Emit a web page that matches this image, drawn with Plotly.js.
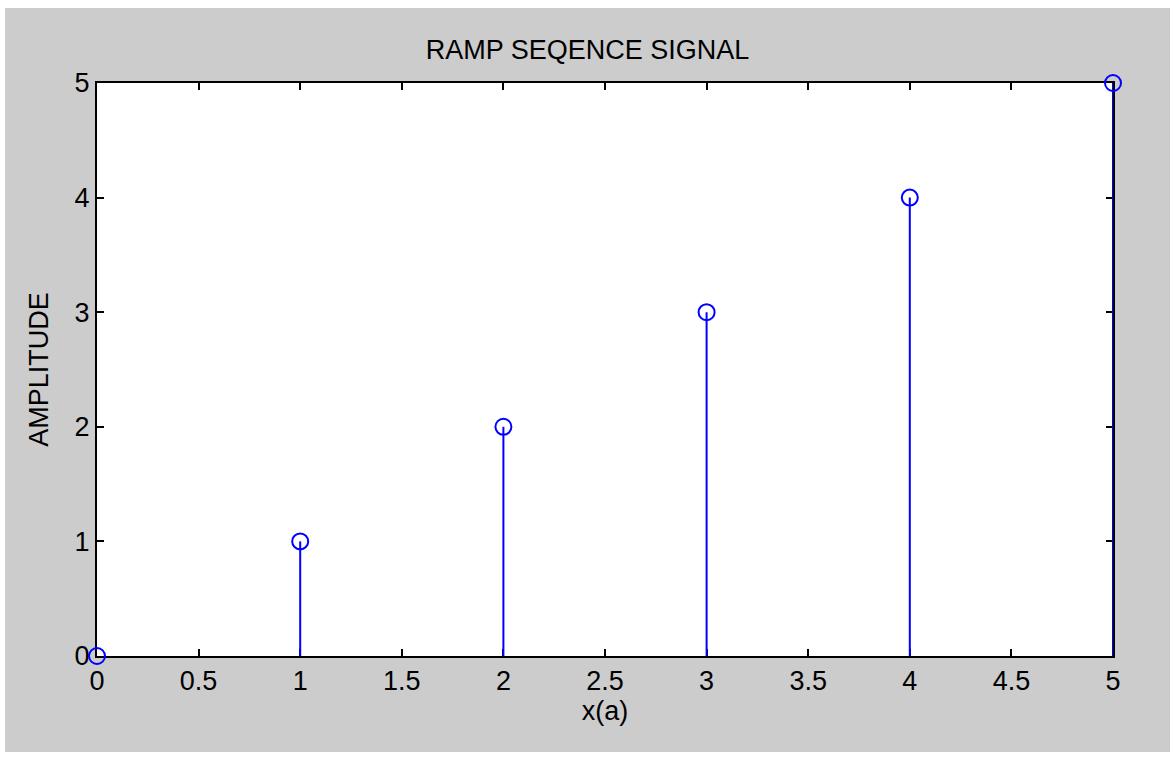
<!DOCTYPE html>
<html><head><meta charset="utf-8">
<script src="https://cdn.plot.ly/plotly-3.0.1.min.js"></script>
<style>
html,body{margin:0;padding:0;background:#ffffff;width:1170px;height:757px;overflow:hidden;}
#plot{position:absolute;left:5px;top:8px;width:1165px;height:744px;}
</style></head>
<body><div id="plot"></div>
<script>
const n = [0, 1, 2, 3, 4, 5];
const amplitude = [0, 1, 2, 3, 4, 5];
const xTicks = [0, 0.5, 1, 1.5, 2, 2.5, 3, 3.5, 4, 4.5, 5];
const yTicks = [0, 1, 2, 3, 4, 5];
const titleText = 'RAMP SEQENCE SIGNAL';
const xLabel = 'x(a)';
const yLabel = 'AMPLITUDE';

const font = {family: 'Liberation Sans, Arial, sans-serif', size: 27, color: '#000000'};
const trace = {
  x: n, y: amplitude, type: 'scatter', mode: 'markers',
  cliponaxis: false,
  marker: {symbol: 'circle-open', size: 16, color: '#0000ff', line: {width: 2, color: '#0000ff'}},
  error_y: {type: 'data', symmetric: false, array: amplitude.map(() => 0), arrayminus: amplitude,
            width: 0, thickness: 2, color: '#0000ff'},
  hoverinfo: 'skip'
};
const axisCommon = {
  showgrid: false, zeroline: false, showline: true, linecolor: '#000000', linewidth: 2,
  mirror: 'ticks', ticks: 'inside', ticklen: 7, tickwidth: 2, tickcolor: '#000000',
  tickfont: font, layer: 'below traces'
};
const layout = {
  width: 1165, height: 744,
  paper_bgcolor: '#cccccc', plot_bgcolor: '#ffffff',
  margin: {l: 92, r: 57, t: 75, b: 96},
  showlegend: false,
  title: {text: titleText, font: font, x: 0.5, xanchor: 'center', y: 1 - 42/744, yanchor: 'middle'},
  xaxis: Object.assign({}, axisCommon, {range: [0, 5], tickvals: xTicks, ticktext: xTicks.map(String),
    title: {text: xLabel, font: font, standoff: 5}}),
  yaxis: Object.assign({}, axisCommon, {range: [0, 5], tickvals: yTicks, ticktext: yTicks.map(String),
    title: {text: yLabel, font: font, standoff: 18}})
};
Plotly.newPlot('plot', [trace], layout, {displayModeBar: false, staticPlot: true});
</script></body></html>
